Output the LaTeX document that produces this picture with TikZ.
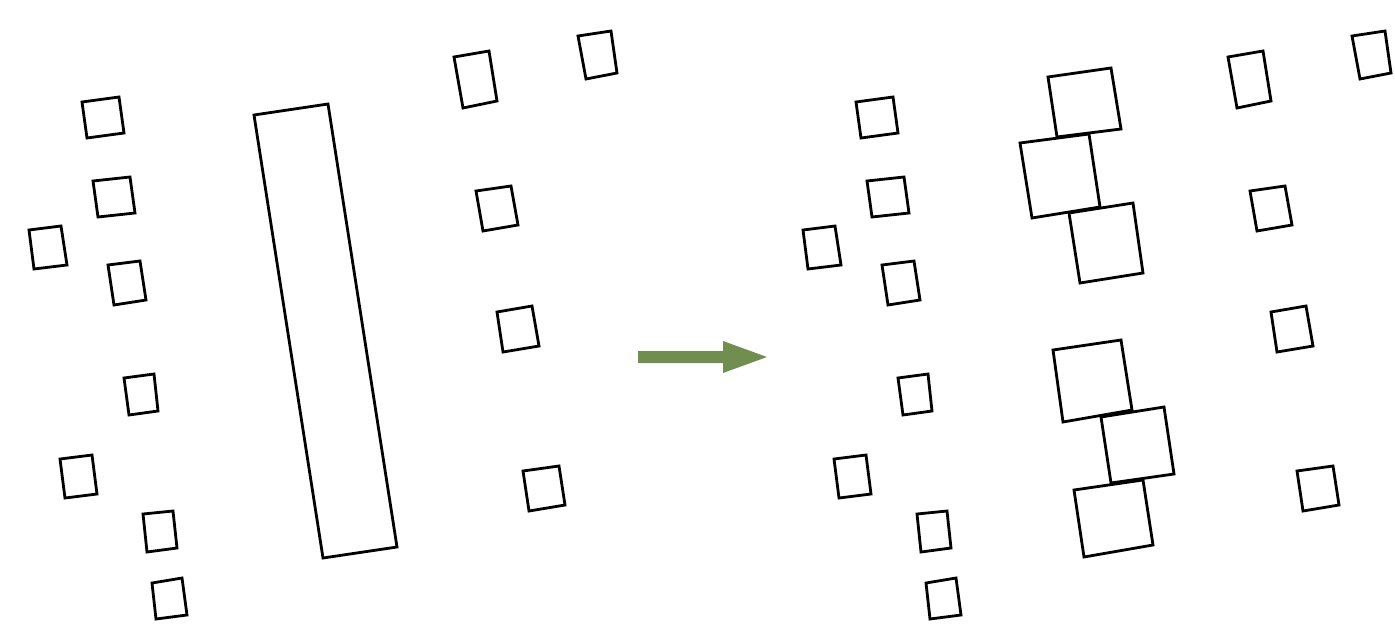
\documentclass[tikz,border=0pt]{standalone}
\usepackage{tikz}
\definecolor{arrowgreen}{RGB}{112,142,80}
\tikzset{
  box/.style={draw=black, line width=2.8pt, line join=miter},
  bigarrow/.style={fill=arrowgreen, draw=none}
}
\begin{document}
\begin{tikzpicture}[x=1pt,y=-1pt]
\useasboundingbox (0,0) rectangle (1395,640);
% small boxes (left group), repeated shifted on the right
\foreach \dx in {0,774}{
\begin{scope}[xshift=\dx pt]
\draw[box] (82,102) -- (119,97) -- (124,133) -- (87,138) -- cycle;
\draw[box] (93,181) -- (130,177) -- (135,213) -- (98,217) -- cycle;
\draw[box] (29,230) -- (61,226) -- (67,265) -- (34,269) -- cycle;
\draw[box] (108,265) -- (140,261) -- (146,300) -- (114,305) -- cycle;
\draw[box] (124,378) -- (154,374) -- (158,411) -- (129,415) -- cycle;
\draw[box] (60,459) -- (92,455) -- (97,494) -- (65,498) -- cycle;
\draw[box] (143,514) -- (173,511) -- (177,548) -- (147,552) -- cycle;
\draw[box] (152,583) -- (182,578) -- (187,615) -- (156,619) -- cycle;
% right column
\draw[box] (454,57) -- (489,51) -- (497,101) -- (463,108) -- cycle;
\draw[box] (578,36) -- (611,31) -- (617,73) -- (586,79) -- cycle;
\draw[box] (476,191) -- (511,186) -- (518,225) -- (483,231) -- cycle;
\draw[box] (497,312) -- (532,306) -- (539,346) -- (503,352) -- cycle;
\draw[box] (523,471) -- (559,466) -- (565,505) -- (529,511) -- cycle;
\end{scope}
}
% long bar
\draw[box] (254,115) -- (328,104) -- (397,547) -- (323,558) -- cycle;
% arrow
\fill[bigarrow] (638,351) -- (723,351) -- (723,341) -- (767,357) -- (723,373) -- (723,363) -- (638,363) -- cycle;
% big squares, upper stack
\draw[box] (1048,77) -- (1111,68) -- (1121,129) -- (1057,137) -- cycle;
\draw[box] (1020,143) -- (1089,134) -- (1100,207) -- (1032,218) -- cycle;
\draw[box] (1069,213) -- (1133,203) -- (1143,273) -- (1080,283) -- cycle;
% big squares, lower stack
\draw[box] (1053,350) -- (1121,340) -- (1132,410) -- (1063,422) -- cycle;
\draw[box] (1101,417) -- (1164,407) -- (1174,474) -- (1111,483) -- cycle;
\draw[box] (1074,490) -- (1143,480) -- (1153,545) -- (1084,557) -- cycle;
\end{tikzpicture}
\end{document}
